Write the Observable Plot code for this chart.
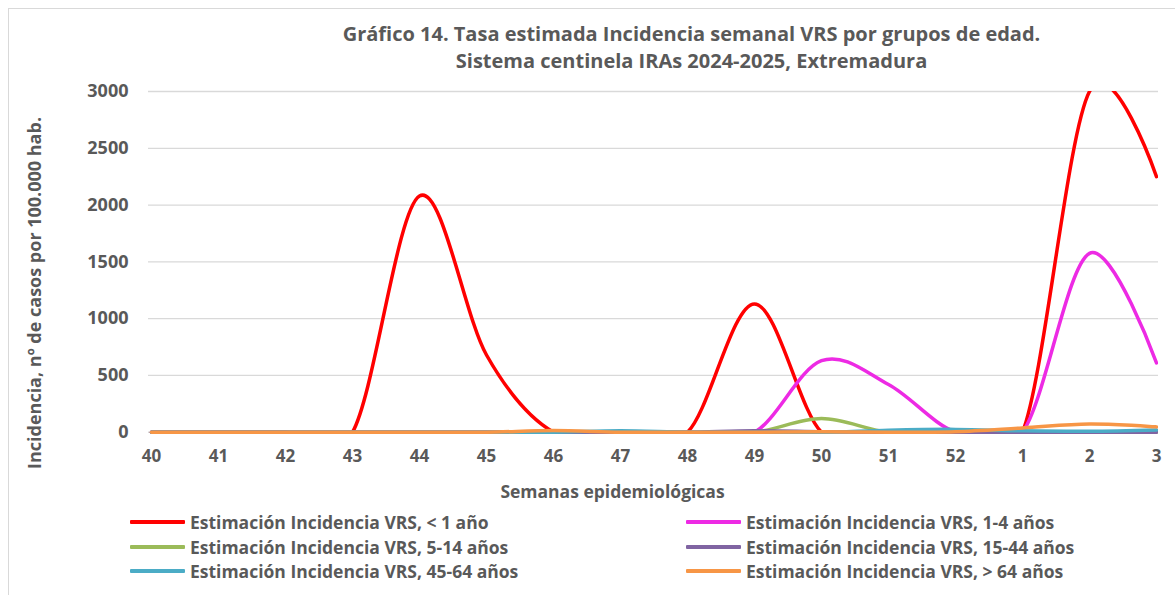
<!DOCTYPE html>
<html>
<head>
<meta charset="utf-8">
<script src="https://cdn.jsdelivr.net/npm/d3@7"></script>
<script src="https://cdn.jsdelivr.net/npm/@observablehq/plot@0.6"></script>
<style>
  html, body { margin: 0; padding: 0; background: #fff; }
  #wrap { position: relative; width: 1175px; height: 595px; overflow: hidden; background: #fff; font-family: "Open Sans", sans-serif; color: #595959; }
  #border { position: absolute; left: 8px; top: 8px; width: 1200px; height: 620px; border: 1px solid #d9d9d9; box-sizing: border-box; }
  #title { position: absolute; left: 104px; top: 20px; width: 1175px; text-align: center; font-weight: bold; font-size: 20px; line-height: 27px; }
  #chart { position: absolute; left: 0; top: 80px; }
  .leg { position: absolute; display: flex; align-items: center; font-weight: bold; font-size: 17.5px; white-space: nowrap; height: 24px; }
  .sw { width: 55px; height: 4px; margin-right: 5px; border-radius: 1px; }
</style>
</head>
<body>
<div id="wrap">
  <div id="border"></div>
  <div id="title"></div>
  <div id="chart"></div>
  <div id="legend"></div>
</div>
<script>
const titleLines = ["Gráfico 14. Tasa estimada Incidencia semanal VRS por grupos de edad.", "Sistema centinela IRAs 2024-2025, Extremadura"];
const xLabel = "Semanas epidemiológicas";
const yLabel = "Incidencia, nº de casos por 100.000 hab.";
const weeks = ["40","41","42","43","44","45","46","47","48","49","50","51","52","1","2","3"];
const yTicks = [0, 500, 1000, 1500, 2000, 2500, 3000];

const seriesNames = [
  "Estimación Incidencia VRS, < 1 año",
  "Estimación Incidencia VRS, 1-4 años",
  "Estimación Incidencia VRS, 5-14 años",
  "Estimación Incidencia VRS, 15-44 años",
  "Estimación Incidencia VRS, 45-64 años",
  "Estimación Incidencia VRS, > 64 años"
];
const seriesColors = ["#FF0000", "#ED2AE4", "#9BBB59", "#8064A2", "#4BACC6", "#F79646"];

const lt1   = [0, 0, 0, 0, 2080, 680, 0, 0, 0, 1130, 0, 0, 0, 0, 3000, 2250];
const a1_4  = [0, 0, 0, 0, 0, 0, 0, 0, 0, 0, 630, 420, 0, 0, 1575, 610];
const a5_14 = [0, 0, 0, 0, 0, 0, 0, 0, 0, 0, 120, 0, 0, 0, 0, 0];
const a15_44 = [0, 0, 0, 0, 0, 0, 0, 0, 0, 12, 5, 0, 0, 0, 0, 0];
const a45_64 = [0, 0, 0, 0, 0, 0, 0, 12, 0, 0, 0, 18, 25, 12, 8, 20];
const a64   = [0, 0, 0, 0, 0, 0, 15, 0, 0, 0, 5, 0, 5, 38, 73, 47];
const seriesValues = [lt1, a1_4, a5_14, a15_44, a45_64, a64];

const data = [];
seriesValues.forEach((vals, i) => {
  vals.forEach((v, j) => data.push({series: seriesNames[i], week: weeks[j], value: v}));
});

document.getElementById("title").innerHTML = titleLines.map(t => `<div>${t}</div>`).join("");

const chart = Plot.plot({
  width: 1175,
  height: 420,
  marginTop: 11,
  marginBottom: 66,
  marginLeft: 148,
  marginRight: 17,
  style: {fontFamily: "Open Sans, sans-serif", color: "#595959", background: "transparent", overflow: "visible"},
  x: {type: "point", domain: weeks, padding: 0},
  y: {domain: [-20, 3000]},
  color: {domain: seriesNames, range: seriesColors},
  marks: [
    Plot.ruleY(yTicks, {stroke: "#d9d9d9", strokeWidth: 1.3}),
    Plot.axisY({ticks: yTicks, tickFormat: d => String(d), tickSize: 0, tickPadding: 20, fontSize: 18, fontWeight: "bold", label: null}),
    Plot.axisX({tickSize: 0, tickPadding: 15, fontSize: 17, fontWeight: "bold", label: null}),
    Plot.line(data, {x: "week", y: "value", z: "series", stroke: "series", strokeWidth: 3.5, curve: "cardinal", tension: 0, clip: true, strokeLinejoin: "round", strokeLinecap: "round"}),
    Plot.text([xLabel], {frameAnchor: "bottom", dy: 63, dx: -41, fontSize: 17.5, fontWeight: "bold", fill: "#595959"}),
    Plot.text([yLabel], {frameAnchor: "left", textAnchor: "middle", rotate: -90, dx: -113, dy: 30, fontSize: 18, fontWeight: "bold", fill: "#595959"})
  ]
});
document.getElementById("chart").appendChild(chart);

const legPos = [[130, 522], [686, 522], [130, 547], [686, 547], [130, 571], [686, 571]];
const legend = document.getElementById("legend");
seriesNames.forEach((name, i) => {
  const el = document.createElement("div");
  el.className = "leg";
  el.style.left = legPos[i][0] + "px";
  el.style.top = (legPos[i][1] - 12) + "px";
  el.innerHTML = `<span class="sw" style="background:${seriesColors[i]}"></span><span>${name}</span>`;
  legend.appendChild(el);
});
</script>
</body>
</html>
